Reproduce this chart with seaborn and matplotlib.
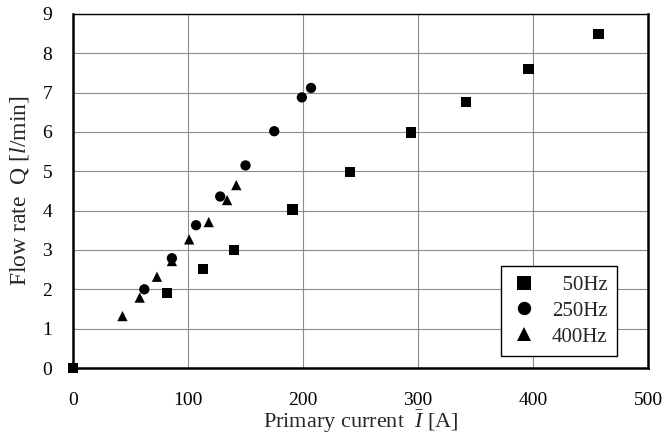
import matplotlib
matplotlib.use("Agg")
import matplotlib.pyplot as plt
import seaborn as sns
import pandas as pd

# Data
current_50 = [0, 82, 113, 140, 191, 241, 294, 342, 396, 457]
flow_50 = [0, 1.91, 2.51, 3.0, 4.03, 4.98, 5.99, 6.77, 7.61, 8.49]

current_250 = [62, 86, 107, 128, 150, 175, 199, 207]
flow_250 = [2.0, 2.79, 3.63, 4.36, 5.15, 6.02, 6.88, 7.12]

current_400 = [43, 58, 73, 86, 101, 118, 134, 142]
flow_400 = [1.32, 1.79, 2.32, 2.72, 3.27, 3.71, 4.27, 4.65]

freq_labels = ["50Hz", "250Hz", "400Hz"]
x_ticks = [0, 100, 200, 300, 400, 500]
y_ticks = list(range(0, 10))

df = pd.concat([
    pd.DataFrame({"I": current_50, "Q": flow_50, "f": freq_labels[0]}),
    pd.DataFrame({"I": current_250, "Q": flow_250, "f": freq_labels[1]}),
    pd.DataFrame({"I": current_400, "Q": flow_400, "f": freq_labels[2]}),
])

sns.set_style("white")
plt.rcParams["font.family"] = ["Liberation Serif", "DejaVu Serif"]
plt.rcParams["mathtext.fontset"] = "custom"
plt.rcParams["mathtext.rm"] = "Liberation Serif"
plt.rcParams["mathtext.it"] = "Liberation Serif:italic"

fig = plt.figure(figsize=(6.67, 4.36), dpi=100)
ax = fig.add_axes([73 / 667, 68 / 436, 575 / 667, 354 / 436])

markers = {"50Hz": "s", "250Hz": "o", "400Hz": "^"}
sns.scatterplot(data=df, x="I", y="Q", style="f", markers=markers,
                color="black", s=55, edgecolor="black", linewidth=0,
                ax=ax, zorder=5, clip_on=False, legend=True)

ax.set_xlim(0, 500)
ax.set_ylim(0, 9)
ax.set_xticks(x_ticks)
ax.set_yticks(y_ticks)
ax.grid(True, color="#8c8c8c", linewidth=0.8)
ax.set_axisbelow(True)
ax.tick_params(axis="both", length=0, labelsize=14, colors="black")
ax.tick_params(axis="x", pad=17)
ax.tick_params(axis="y", pad=15)

for side in ["left", "bottom", "right"]:
    ax.spines[side].set_linewidth(1.8)
    ax.spines[side].set_color("black")
ax.spines["top"].set_linewidth(1.0)
ax.spines["top"].set_color("black")

ax.set_xlabel("Primary current  $\\bar{I}$ [A]", fontsize=16, labelpad=0)
ax.set_ylabel("Flow rate  Q [$l$/min]", fontsize=17, labelpad=8)

handles, labels = ax.get_legend_handles_labels()
new_labels = ["  50Hz", "250Hz", "400Hz"]
leg = ax.legend(handles, new_labels, loc="lower right",
                bbox_to_anchor=(0.946, 0.034), borderaxespad=0,
                fontsize=15, frameon=True, fancybox=False,
                edgecolor="black", framealpha=1, borderpad=0.45,
                handlelength=1.3, handletextpad=0.7,
                labelspacing=0.3, markerscale=1.3)
leg.get_frame().set_linewidth(1.0)

fig.savefig("out.png", dpi=100)
